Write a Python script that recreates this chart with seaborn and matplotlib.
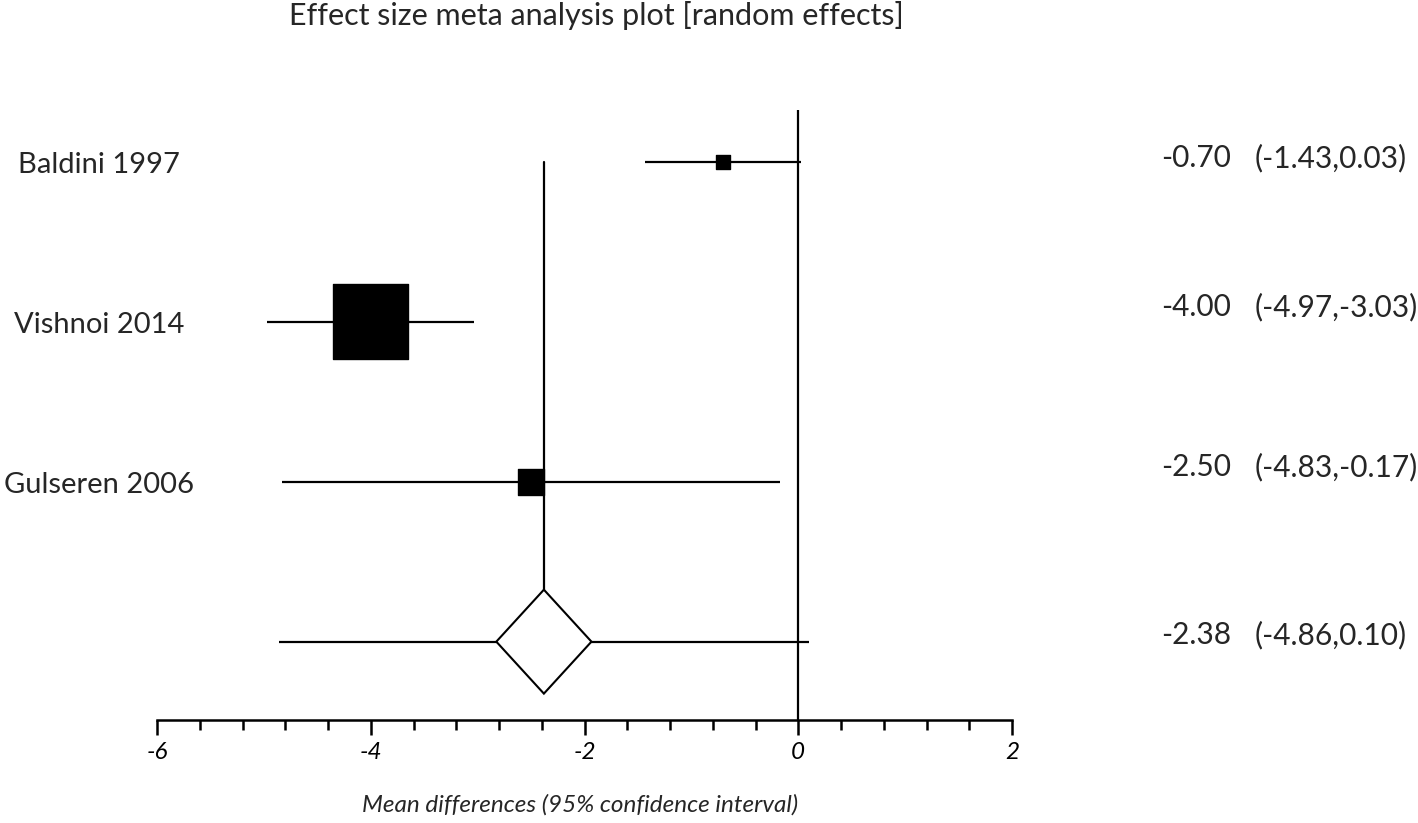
import matplotlib
matplotlib.use("Agg")
import matplotlib.pyplot as plt
import seaborn as sns
import pandas as pd
from matplotlib.patches import Polygon
from matplotlib.ticker import MultipleLocator

# data
studies = ["Baldini 1997", "Vishnoi 2014", "Gulseren 2006"]
estimates = [-0.70, -4.00, -2.50]
ci_low = [-1.43, -4.97, -4.83]
ci_high = [0.03, -3.03, -0.17]
weights = [3.0, 86.6, 10.4]
pooled = -2.38
pooled_low = -4.86
pooled_high = 0.10

sns.set_style("white")
plt.rcParams["font.family"] = ["Lato", "DejaVu Sans"]

W, H = 1418, 823
fig = plt.figure(figsize=(W / 100, H / 100), dpi=100)
ax = fig.add_axes([157 / W, 1 - 720 / H, 855 / W, 610 / H])

rows = list(range(len(studies)))
pooled_row = len(studies)
df = pd.DataFrame({"study": studies, "est": estimates, "lo": ci_low,
                   "hi": ci_high, "w": weights, "row": rows})

# confidence interval lines
ax.hlines(df["row"], df["lo"], df["hi"], color="black", lw=1.6, zorder=2)
ax.hlines(pooled_row, pooled_low, pooled_high, color="black", lw=1.6, zorder=2)

# weighted squares
sns.scatterplot(data=df, x="est", y="row", size="w", sizes=(102, 2916),
                marker="s", color="black", edgecolor="black", legend=False,
                ax=ax, zorder=3)

# pooled diamond + reference lines
dw, dh = 0.445, 0.325
diamond = Polygon([[pooled - dw, pooled_row], [pooled, pooled_row - dh],
                   [pooled + dw, pooled_row], [pooled, pooled_row + dh]],
                  closed=True, facecolor="white", edgecolor="black", lw=1.5, zorder=4)
ax.add_patch(diamond)
ax.plot([pooled, pooled], [0, pooled_row - dh], color="black", lw=1.6, zorder=1)
ax.axvline(0, color="black", lw=1.6, zorder=1)

ax.set_xlim(-6, 2)
ax.set_ylim(3.49, -0.325)
ax.set_yticks([])
ax.set_ylabel("")
ax.set_xlabel("")
for s in ["top", "right", "left"]:
    ax.spines[s].set_visible(False)
ax.spines["bottom"].set_linewidth(1.8)
ax.spines["bottom"].set_color("black")
ax.xaxis.set_minor_locator(MultipleLocator(0.4))
ax.set_xticks([-6, -4, -2, 0, 2])
ax.set_xticklabels(["-6", "-4", "-2", "0", "2"], fontstyle="italic")
ax.tick_params(axis="x", which="major", direction="out", length=11, width=1.8,
               colors="black", labelsize=17.5, pad=5, bottom=True)
ax.tick_params(axis="x", which="minor", direction="out", length=7, width=1.8,
               colors="black", bottom=True)

fig.text(580 / W, 1 - 805 / H, "Mean differences (95% confidence interval)",
         ha="center", va="center", fontsize=17.5, fontstyle="italic")

# study labels on the left
for i, name in enumerate(studies):
    fig.text(99 / W, 1 - (165 + 160 * i) / H, name, ha="center", va="center", fontsize=21)

# estimate and CI text on the right
right_rows = [(estimates[i], ci_low[i], ci_high[i]) for i in range(len(studies))]
right_rows.append((pooled, pooled_low, pooled_high))
right_y = [158, 307, 467, 635]
for (e, lo, hi), y in zip(right_rows, right_y):
    fig.text(1161 / W, 1 - y / H, f"{e:.2f}", ha="left", va="center", fontsize=21.5)
    fig.text(1255 / W, 1 - y / H, f"({lo:.2f},{hi:.2f})", ha="left", va="center", fontsize=21.5)

fig.text(596 / W, 1 - 16 / H, "Effect size meta analysis plot [random effects]",
         ha="center", va="center", fontsize=22)

fig.savefig("out.png", dpi=100, facecolor="white")
